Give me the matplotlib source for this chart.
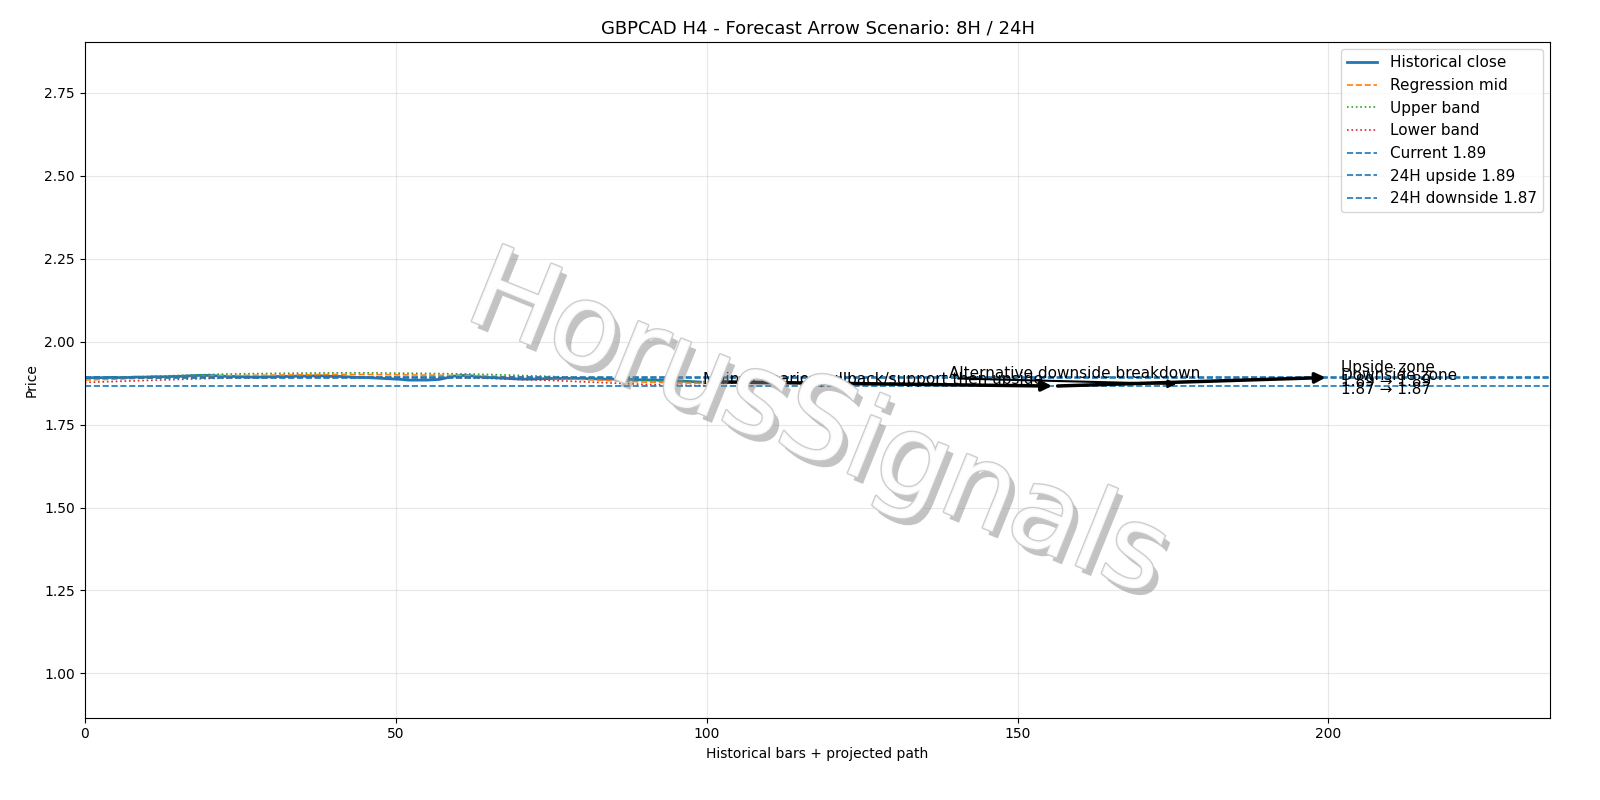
import numpy as np
import matplotlib
matplotlib.use('Agg')
import matplotlib.pyplot as plt
import matplotlib.patheffects as pe

close = [1.891, 1.891, 1.892, 1.891, 1.892, 1.892, 1.891, 1.892, 1.893, 1.893,
         1.893, 1.894, 1.894, 1.894, 1.895, 1.895, 1.896, 1.897, 1.898, 1.898,
         1.898, 1.897, 1.896, 1.895, 1.895, 1.894, 1.894, 1.893, 1.893, 1.894,
         1.894, 1.895, 1.895, 1.895, 1.896, 1.896, 1.896, 1.897, 1.897, 1.896,
         1.895, 1.895, 1.894, 1.893, 1.892, 1.892, 1.891, 1.890, 1.889, 1.888,
         1.887, 1.886, 1.884, 1.884, 1.884, 1.884, 1.885, 1.886, 1.890, 1.895,
         1.897, 1.898, 1.897, 1.895, 1.893, 1.892, 1.891, 1.890, 1.889, 1.888,
         1.887, 1.887, 1.887, 1.888, 1.888, 1.889, 1.889, 1.889, 1.889, 1.889,
         1.889, 1.888, 1.888, 1.887, 1.887, 1.887, 1.886, 1.886, 1.886, 1.885,
         1.885, 1.884, 1.884, 1.883, 1.882, 1.882, 1.881, 1.880, 1.879, 1.878]
mid = [1.884, 1.887, 1.890, 1.893, 1.896, 1.898, 1.899, 1.900, 1.901, 1.901,
       1.900, 1.899, 1.898, 1.896, 1.893, 1.890, 1.886, 1.882, 1.878, 1.876, 1.874]
mid_x = list(range(0, 101, 5))
current = 1.890
up24 = 1.892
down24 = 1.867

main_path_x = [100, 156, 200]
main_path_y = [1.879, 1.866, 1.892]
alt_x = [140, 176]
alt_y = [1.889, 1.872]

fig, ax = plt.subplots(figsize=(16, 8), dpi=100)
x = np.arange(len(close))
ax.plot(x, close, color='#1f77b4', lw=2, label='Historical close')
ax.plot(mid_x, mid, '--', color='#ff7f0e', lw=1.2, label='Regression mid')
ax.plot(mid_x, np.array(mid) + 0.005, ':', color='#2ca02c', lw=1.2, label='Upper band')
ax.plot(mid_x, np.array(mid) - 0.007, ':', color='#d62728', lw=1.2, label='Lower band')
ax.axhline(current, ls='--', color='#1f77b4', lw=1.2, label='Current 1.89')
ax.axhline(up24, ls='--', color='#1f77b4', lw=1.2, label='24H upside 1.89')
ax.axhline(down24, ls='--', color='#1f77b4', lw=1.2, label='24H downside 1.87')

for i in range(len(main_path_x) - 1):
    ax.annotate('', xy=(main_path_x[i + 1], main_path_y[i + 1]),
                xytext=(main_path_x[i], main_path_y[i]),
                arrowprops=dict(arrowstyle='-|>', color='black', lw=2.5, mutation_scale=15))
ax.annotate('', xy=(alt_x[1], alt_y[1]), xytext=(alt_x[0], alt_y[0]),
            arrowprops=dict(arrowstyle='-|>', color='black', lw=1.5, mutation_scale=12))

ax.text(99.5, 1.871, 'Main scenario: pullback/support then upside', fontsize=11)
ax.text(139, 1.889, 'Alternative downside breakdown', fontsize=11)
ax.text(202, 1.858, 'Upside zone\n1.89 → 1.89', fontsize=11, va='bottom', linespacing=0.9)
ax.text(202, 1.833, 'Downside zone\n1.87 → 1.87', fontsize=11, va='bottom', linespacing=0.9)

ax.text(0.5, 0.43, 'HorusSignals', transform=ax.transAxes, fontsize=82, color='white',
        rotation=-22, ha='center', va='center', alpha=0.9,
        path_effects=[pe.withSimplePatchShadow(offset=(4, -5), shadow_rgbFace='#888888', alpha=0.5),
                      pe.Stroke(linewidth=2, foreground='#c8c8c8'), pe.Normal()])

ax.set_xlim(0, 235.7)
ax.set_ylim(0.867, 2.904)
ax.set_yticks([1.0, 1.25, 1.5, 1.75, 2.0, 2.25, 2.5, 2.75])
ax.grid(True, alpha=0.3)
ax.set_title('GBPCAD H4 - Forecast Arrow Scenario: 8H / 24H', fontsize=13)
ax.set_xlabel('Historical bars + projected path')
ax.set_ylabel('Price')
ax.legend(loc='upper right', fontsize=11)
fig.subplots_adjust(left=0.053, right=0.969, top=0.948, bottom=0.103)
fig.savefig('out.png')
